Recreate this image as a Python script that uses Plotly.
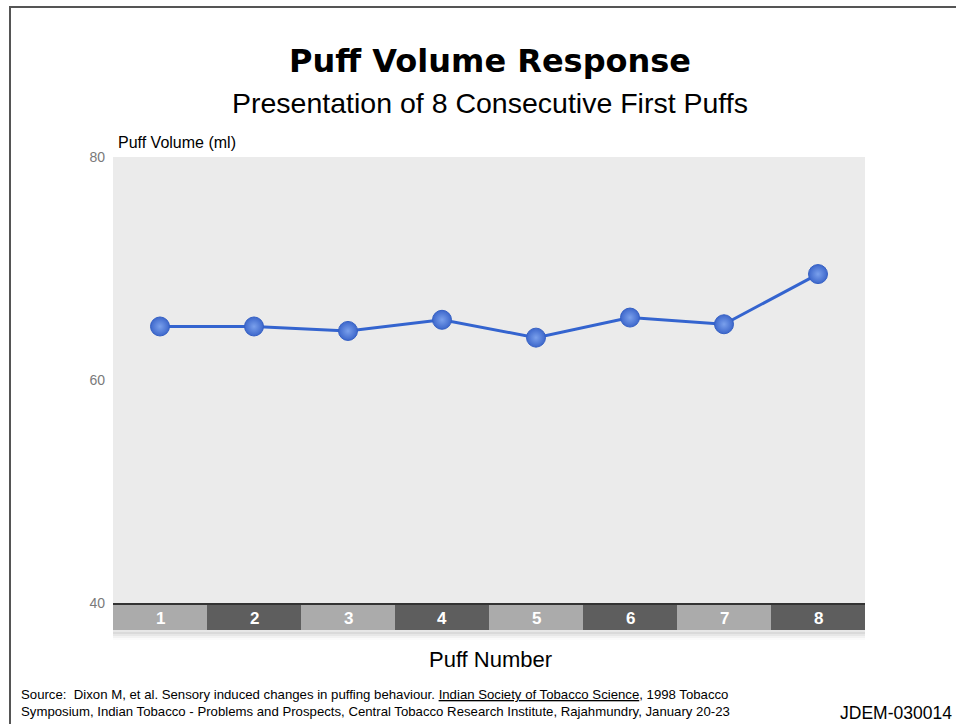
import plotly.graph_objects as go

# Puff volume (ml) for eight consecutive first puffs
puff_numbers = [1, 2, 3, 4, 5, 6, 7, 8]
puff_volume = [64.8, 64.8, 64.4, 65.4, 63.8, 65.6, 65.0, 69.5]
y_ticks = [40, 60, 80]
band_colors = ["#ababab", "#5e5e5e"]

W, H = 956, 724
L, R, T, B = 113, 91, 157, 121
PW, PH = W - L - R, H - T - B


def px_x(px):
    return (px - L) / PW


def px_y(py):
    return (H - B - py) / PH


fig = go.Figure()

fig.add_trace(go.Scatter(
    x=puff_numbers,
    y=puff_volume,
    mode="lines+markers",
    line=dict(color="#3464cf", width=3),
    marker=dict(
        size=19,
        color="#3d67cb",
        gradient=dict(type="radial", color="#7aa0ec"),
        line=dict(color="#3560c4", width=1),
    ),
    hoverinfo="x+y",
    showlegend=False,
))

shapes = []
annotations = []

# Alternating category band under the plot area
for i, n in enumerate(puff_numbers):
    shapes.append(dict(
        type="rect", xref="x", yref="paper",
        x0=n - 0.5, x1=n + 0.5, y0=px_y(630), y1=px_y(605),
        fillcolor=band_colors[i % 2], line=dict(width=0), layer="above",
    ))
    annotations.append(dict(
        x=n, y=px_y(618), xref="x", yref="paper", text=f"<b>{n}</b>",
        showarrow=False, font=dict(family="Liberation Sans, Arial", size=17, color="white"),
        xanchor="center", yanchor="middle",
    ))

# soft shadow under the band
for k, op in enumerate([0.22, 0.14, 0.08, 0.04]):
    shapes.append(dict(
        type="rect", xref="paper", yref="paper",
        x0=0, x1=1, y0=px_y(632 + 2 * k + 2), y1=px_y(630 + 2 * k),
        fillcolor="#909090", opacity=op, line=dict(width=0), layer="above",
    ))

# dark base line at the bottom of the plot area
shapes.append(dict(
    type="line", xref="paper", yref="paper",
    x0=0, x1=1, y0=px_y(604), y1=px_y(604),
    line=dict(color="#333333", width=2), layer="above",
))

# slide frame
shapes.append(dict(
    type="rect", xref="paper", yref="paper",
    x0=px_x(10), x1=px_x(990), y0=px_y(760), y1=px_y(7),
    line=dict(color="#555555", width=2), fillcolor="rgba(0,0,0,0)", layer="above",
))

annotations += [
    dict(x=px_x(490), y=px_y(61), xref="paper", yref="paper",
         text="<b>Puff Volume Response</b>", showarrow=False,
         font=dict(family="DejaVu Sans", size=32, color="black"),
         xanchor="center", yanchor="middle"),
    dict(x=px_x(490), y=px_y(103), xref="paper", yref="paper",
         text="Presentation of 8 Consecutive First Puffs", showarrow=False,
         font=dict(family="Liberation Sans, Arial", size=28.5, color="black"),
         xanchor="center", yanchor="middle"),
    dict(x=px_x(116), y=px_y(143), xref="paper", yref="paper",
         text="Puff Volume (ml)", showarrow=False,
         font=dict(family="Liberation Sans Narrow, Arial Narrow, Liberation Sans", size=16, color="black"),
         xanchor="left", yanchor="middle"),
    dict(x=px_x(490), y=px_y(659), xref="paper", yref="paper",
         text="Puff Number", showarrow=False,
         font=dict(family="Liberation Sans Narrow, Arial Narrow, Liberation Sans", size=22, color="black"),
         xanchor="center", yanchor="middle"),
    dict(x=px_x(19), y=px_y(703), xref="paper", yref="paper",
         text=("Source:  Dixon M, et al. Sensory induced changes in puffing behaviour. "
               "<u>Indian Society of Tobacco Science</u>, 1998 Tobacco<br>"
               "Symposium, Indian Tobacco - Problems and Prospects, Central Tobacco Research "
               "Institute, Rajahmundry, January 20-23"),
         showarrow=False, align="left",
         font=dict(family="Liberation Sans Narrow, Arial Narrow, Liberation Sans", size=13.2, color="black"),
         xanchor="left", yanchor="middle"),
    dict(x=px_x(838), y=px_y(713), xref="paper", yref="paper",
         text="JDEM-030014", showarrow=False,
         font=dict(family="Liberation Sans, Arial", size=17.5, color="black"),
         xanchor="left", yanchor="middle"),
]

fig.update_layout(
    width=W, height=H,
    margin=dict(l=L, r=R, t=T, b=B, pad=0),
    paper_bgcolor="white",
    plot_bgcolor="#ebebeb",
    shapes=shapes,
    annotations=annotations,
    xaxis=dict(
        range=[0.5, 8.5], showgrid=False, zeroline=False,
        showticklabels=False, ticks="", showline=False, fixedrange=True,
    ),
    yaxis=dict(
        range=[40, 80], tickvals=y_ticks, showgrid=False, zeroline=False,
        showline=False, ticks="", ticklabelstandoff=7,
        tickfont=dict(family="Liberation Sans, Arial", size=14, color="#7a7a7a"),
        fixedrange=True,
    ),
)

fig.write_html("out.html")
